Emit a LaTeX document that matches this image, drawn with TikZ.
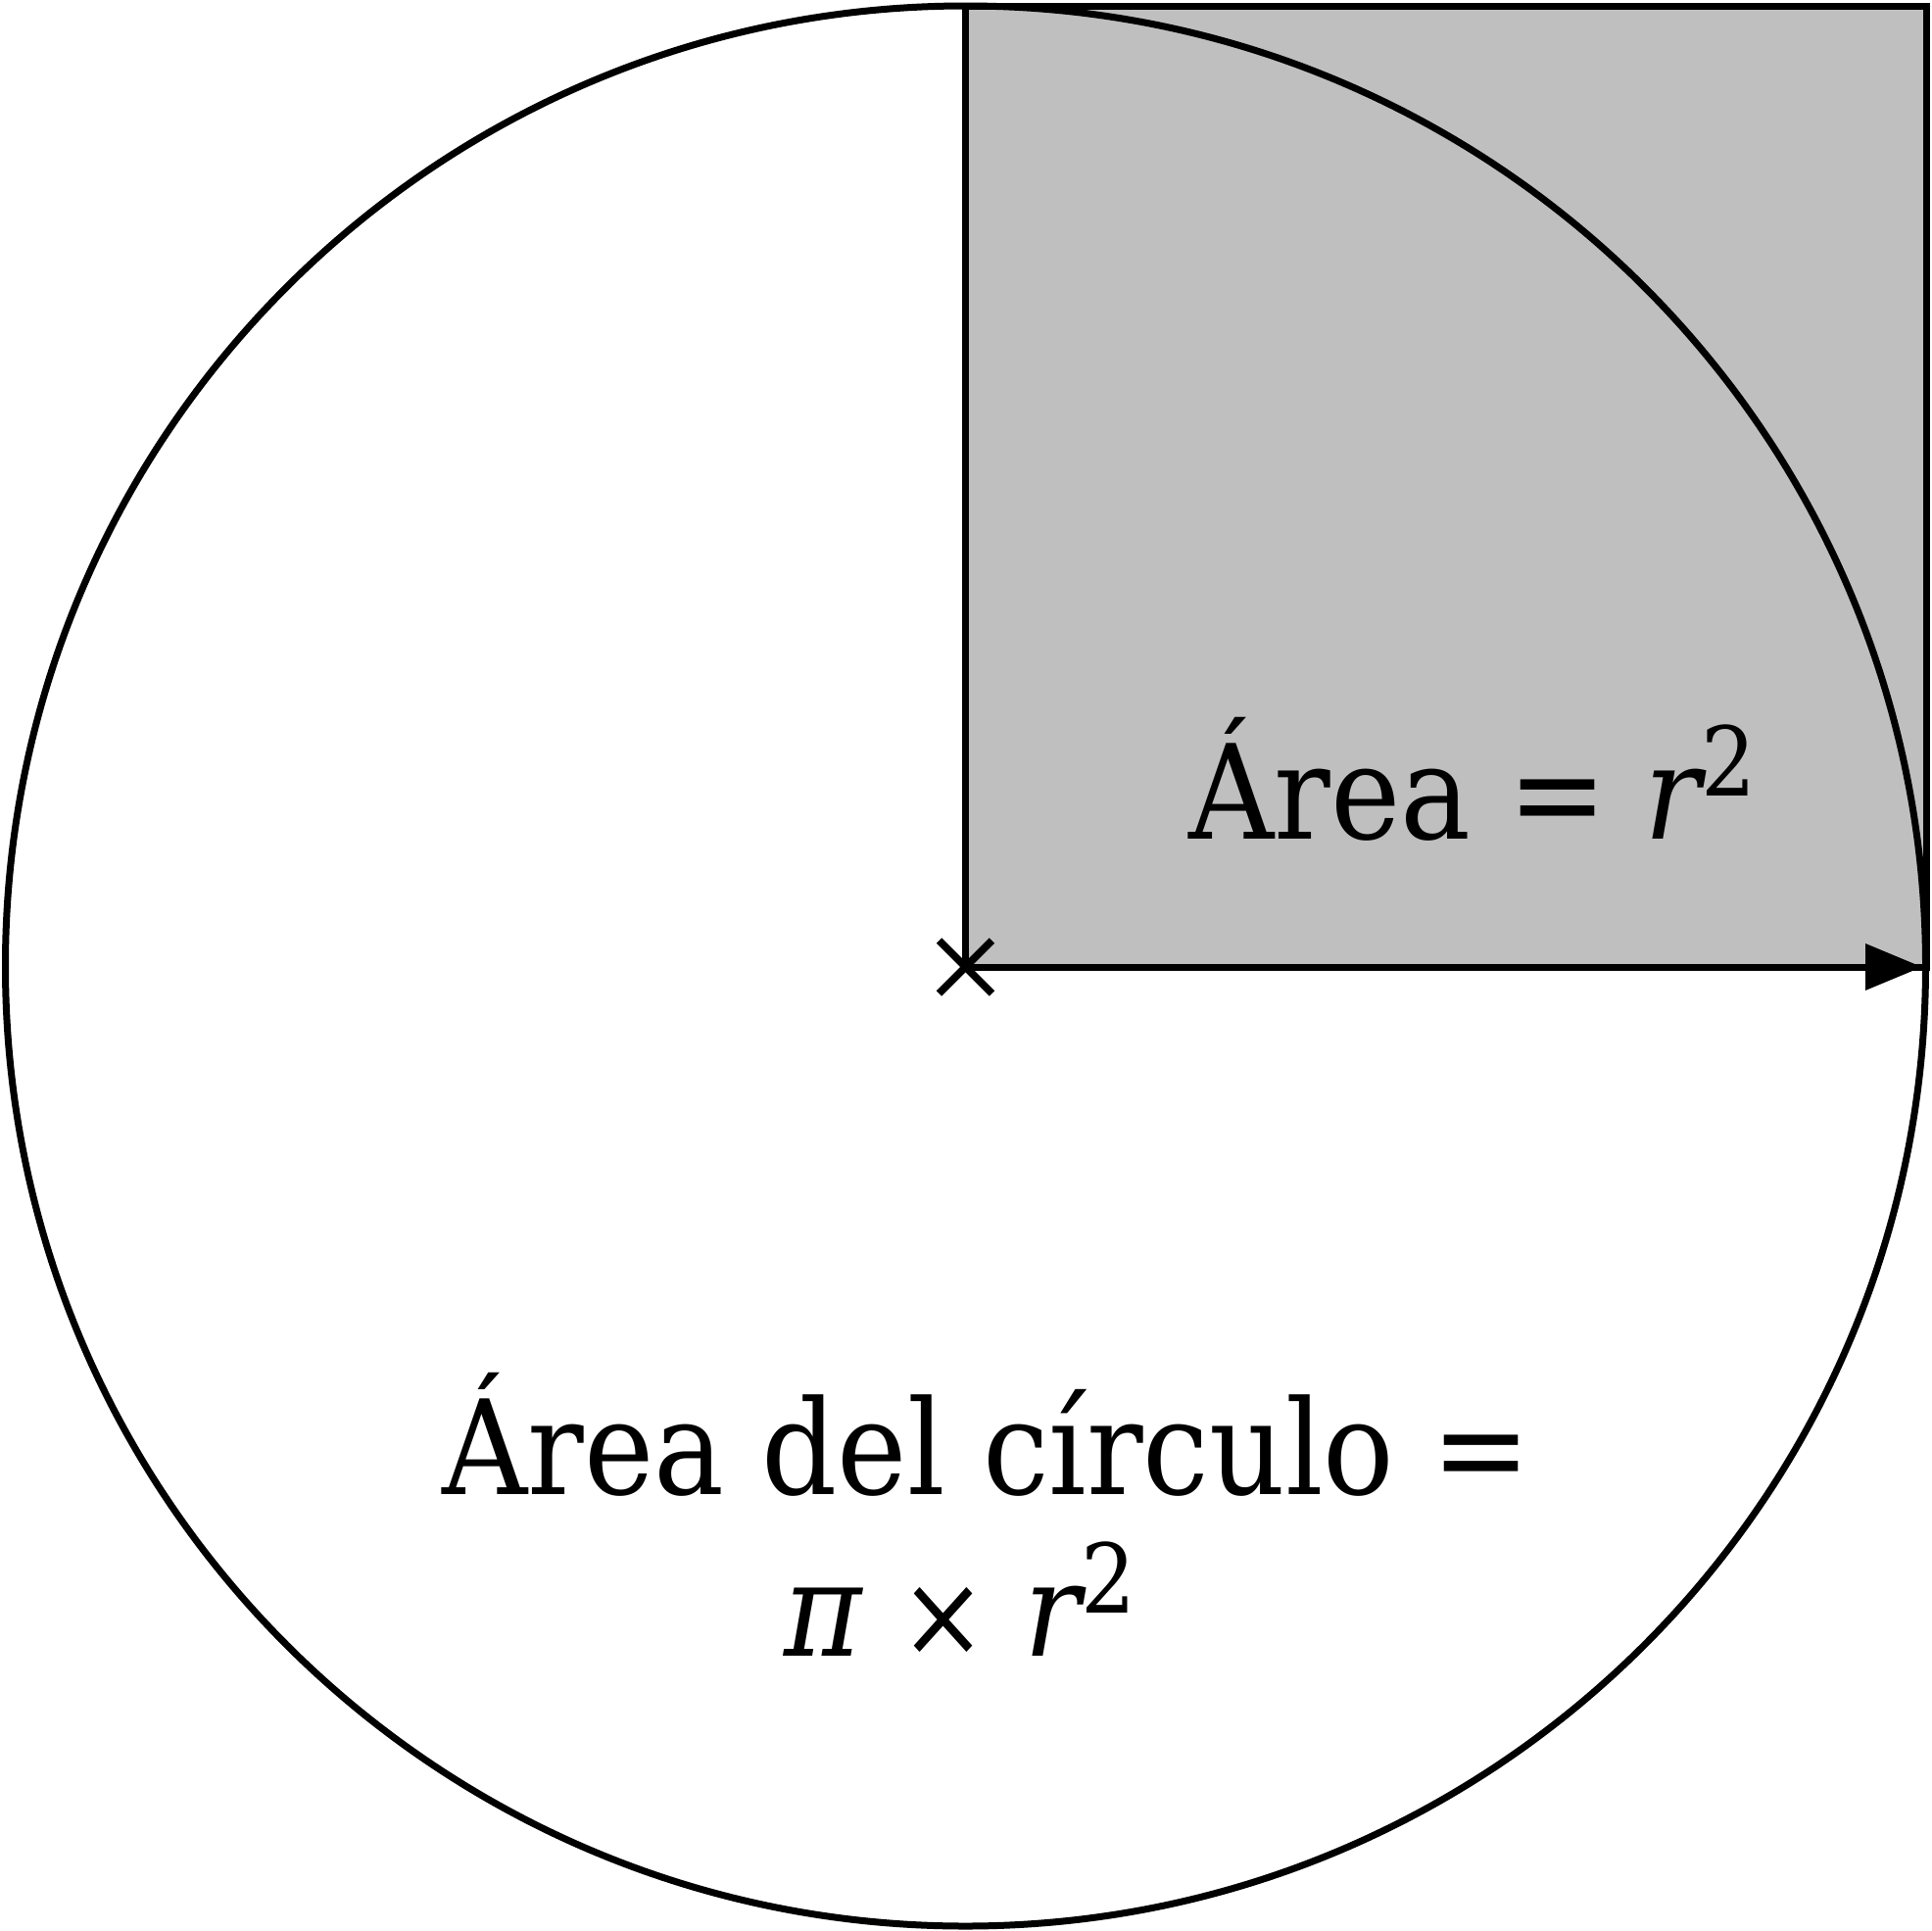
\documentclass[tikz,border=0pt]{standalone}
\usepackage{fontspec}
\setmainfont{DejaVu Serif Condensed}
\usetikzlibrary{arrows.meta}
\definecolor{sqgray}{HTML}{BFBFBF}
\newcommand{\bigfont}{\fontsize{134}{165}\selectfont}
\newcommand{\supertwo}{\raisebox{44pt}{\fontsize{98}{98}\selectfont 2}}
\newcommand{\smalltimes}{{\fontsize{118}{118}\selectfont ×}}
\tikzset{
  outline/.style={draw=black, line width=7pt},
  lbl/.style={inner sep=0pt, outer sep=0pt, font=\bigfont, text=black},
}
\begin{document}
\begin{tikzpicture}[x=1pt, y=-1pt]
\useasboundingbox (0,0) rectangle (1971,1971);
\coordinate (ctr) at (985.5,987);
\coordinate (tip) at (1962,987);
% square r x r
\draw[outline, fill=sqgray] (985.5,6) rectangle (1966,987);
% circle
\draw[outline] (985.5,986) circle (980);
% radius arrow
\draw[line width=7pt, -{Triangle[length=58pt,width=46pt]}] (ctr) -- (tip);
% centre mark
\draw[line width=7.5pt] ([shift={(-27,-27)}]ctr) -- ([shift={(27,27)}]ctr);
\draw[line width=7.5pt] ([shift={(-27,27)}]ctr) -- ([shift={(27,-27)}]ctr);
% labels
\node[lbl, anchor=base] (sq) at (1503,856) {Área = {\itshape r}\supertwo};
\node[lbl, anchor=base] (c1) at (1007,1525) {Área del círculo =};
\node[lbl, anchor=base] (c2) at (980,1690) {{\itshape π} \smalltimes{} {\itshape r}\supertwo};
\end{tikzpicture}
\end{document}
